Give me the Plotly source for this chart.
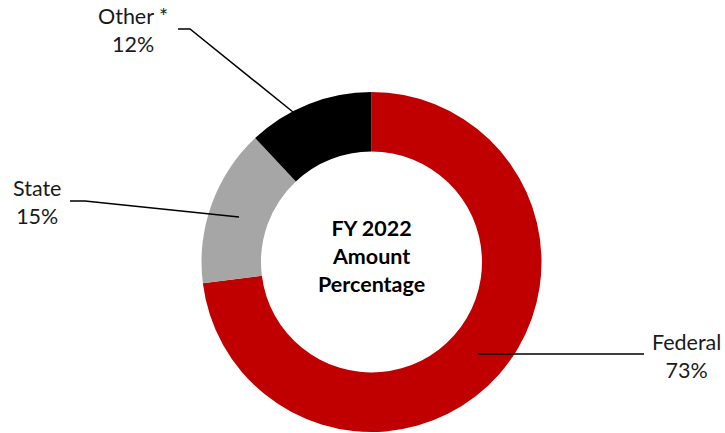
import plotly.graph_objects as go

# ---------- data ----------
sources = ["Federal", "State", "Other *"]
shares = [73, 15, 12]
colors = ["#C00000", "#A6A6A6", "#000000"]
center_title = ["FY 2022", "Amount", "Percentage"]

W, H = 725, 433
FONT = "Lato, 'Open Sans', sans-serif"


def px_x(x):
    return x / W


def px_y(y):
    return 1 - y / H


fig = go.Figure(go.Pie(
    labels=sources,
    values=shares,
    hole=0.65,
    sort=False,
    direction="clockwise",
    rotation=0,
    marker=dict(colors=colors, line=dict(width=0)),
    textinfo="none",
    hoverinfo="label+percent",
    showlegend=False,
    domain=dict(x=[px_x(201.5), px_x(541.5)], y=[px_y(432), px_y(92)]),
))

# slice labels (text + anchor point in pixels)
label_pos = {
    "Federal": (686, 356),
    "State": (37, 202),
    "Other *": (133, 30),
}
annotations = []
for name, val in zip(sources, shares):
    x, y = label_pos[name]
    annotations.append(dict(
        x=px_x(x), y=px_y(y), xref="paper", yref="paper",
        text=f"{name}<br>{val}%", showarrow=False,
        font=dict(family=FONT, size=21.5, color="#1a1a1a"),
        align="center", xanchor="center", yanchor="middle",
    ))

annotations.append(dict(
    x=px_x(371.5), y=px_y(256), xref="paper", yref="paper",
    text="<b>" + "<br>".join(center_title) + "</b>", showarrow=False,
    font=dict(family=FONT, size=21.5, color="#000000"),
    align="center", xanchor="center", yanchor="middle",
))

# leader lines
leaders = [
    [(478, 354), (644, 354)],
    [(70, 201), (85, 201), (239, 217)],
    [(178, 29), (190, 29), (293, 112)],
]
shapes = []
for pts in leaders:
    path = "M " + " L ".join(f"{px_x(x)},{px_y(y)}" for x, y in pts)
    shapes.append(dict(type="path", path=path, xref="paper", yref="paper",
                       line=dict(color="#000000", width=1.5)))

fig.update_layout(
    width=W, height=H,
    margin=dict(l=0, r=0, t=0, b=0),
    paper_bgcolor="white",
    plot_bgcolor="white",
    annotations=annotations,
    shapes=shapes,
)

fig.write_html("out.html", config={"displayModeBar": False},
               post_script="document.body.style.margin='0';")
